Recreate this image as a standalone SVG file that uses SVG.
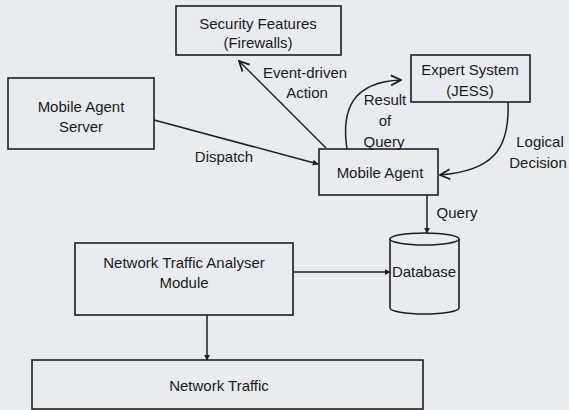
<svg xmlns="http://www.w3.org/2000/svg" width="569" height="410" viewBox="0 0 569 410">
<style>
.box{fill:none;stroke:#1e1e1e;stroke-width:1.6}
.ln{fill:none;stroke:#1e1e1e;stroke-width:1.5}
text{font-family:"Liberation Sans",Arial,sans-serif;font-size:15px;fill:#1a1a1a;text-anchor:middle}
</style>
<defs>
<marker id="vee" viewBox="0 0 12 12" refX="11" refY="6" markerWidth="12" markerHeight="12" markerUnits="userSpaceOnUse" orient="auto">
<path d="M1,1 L11,6 L1,11" fill="none" stroke="#1e1e1e" stroke-width="1.8"/>
</marker>
<marker id="tick" viewBox="0 0 8 8" refX="7" refY="4" markerWidth="6" markerHeight="6" markerUnits="userSpaceOnUse" orient="auto">
<path d="M0,0 L8,4 L0,8 Z" fill="#1e1e1e"/>
</marker>
</defs>
<rect width="569" height="410" fill="#e8ecf1"/>
<g id="connectors">
<line class="ln" x1="154" y1="120" x2="318" y2="164" marker-end="url(#tick)"/>
<line class="ln" x1="326" y1="148" x2="239" y2="61" marker-end="url(#vee)"/>
<path class="ln" d="M347,149 C341,110 352,82 401,80" marker-end="url(#vee)"/>
<path class="ln" d="M508,102 C510,150 492,171 440,175" marker-end="url(#vee)"/>
<line class="ln" x1="427" y1="195" x2="427" y2="233" marker-end="url(#tick)"/>
<line class="ln" x1="293" y1="272" x2="390" y2="272" marker-end="url(#tick)"/>
<line class="ln" x1="207" y1="315" x2="207" y2="360" marker-end="url(#tick)"/>
<text x="224" y="162">Dispatch</text>
<text x="305" y="78">Event-driven</text>
<text x="307" y="98">Action</text>
<text x="385" y="105">Result</text>
<text x="385" y="126">of</text>
<text x="384" y="147">Query</text>
<text x="540" y="147">Logical</text>
<text x="538" y="168">Decision</text>
<text x="457" y="218">Query</text>
</g>
<g id="security">
<rect class="box" x="176" y="6" width="165" height="49"/>
<text x="258" y="29">Security Features</text>
<text x="258" y="48">(Firewalls)</text>
</g>
<g id="server">
<rect class="box" x="8" y="78" width="146" height="71"/>
<text x="81" y="112">Mobile Agent</text>
<text x="81" y="132">Server</text>
</g>
<g id="expert">
<rect class="box" x="411" y="55" width="119" height="47"/>
<text x="470" y="75">Expert System</text>
<text x="470" y="96">(JESS)</text>
</g>
<g id="agent">
<rect class="box" x="319" y="149" width="119" height="46"/>
<text x="380" y="178">Mobile Agent</text>
</g>
<g id="database">
<path class="box" d="M390,239 L390,308 A34.5,6 0 0 0 459,308 L459,239"/>
<ellipse class="box" cx="424.5" cy="239" rx="34.5" ry="6"/>
<text x="424" y="277">Database</text>
</g>
<g id="analyser">
<rect class="box" x="75" y="243" width="218" height="72"/>
<text x="184" y="268">Network Traffic Analyser</text>
<text x="184" y="288">Module</text>
</g>
<g id="traffic">
<rect class="box" x="32" y="360" width="391" height="49"/>
<text x="219" y="391">Network Traffic</text>
</g>
</svg>
